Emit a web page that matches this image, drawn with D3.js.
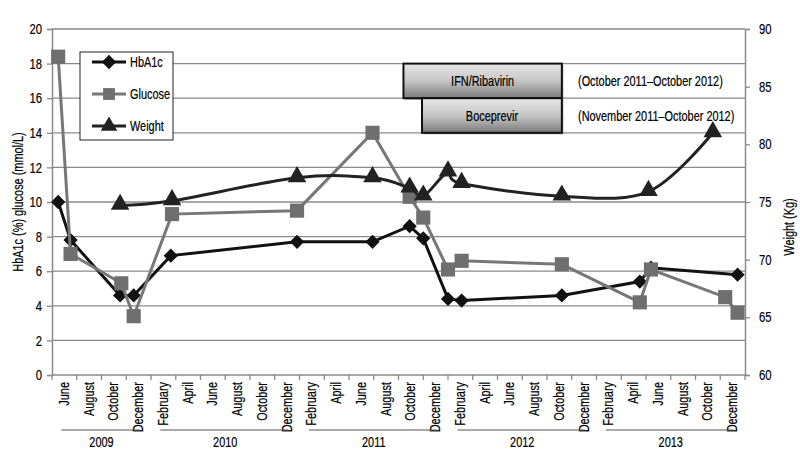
<!DOCTYPE html>
<html>
<head>
	<meta charset="utf-8">
	<title>HbA1c, glucose and weight</title>
	<script src="https://cdn.jsdelivr.net/npm/d3@7"></script>
	<style>
		body { margin: 0; background: #fff; }
		svg text { font-family: "Liberation Sans", Arial, sans-serif; fill: #000; stroke: #000; stroke-width: 0.2; }
	</style>
</head>
<body>
	<div id="chart"></div>
	<script type="text/javascript">
		// month positions: month number counted from Jan 2009 (June 2009 = 6)
		var monthLabels = ["June", "August", "October", "December",
			"February", "April", "June", "August", "October", "December",
			"February", "April", "June", "August", "October", "December",
			"February", "April", "June", "August", "October", "December",
			"February", "April", "June", "August", "October", "December"];
		var labelMonths = [6, 8, 10, 12, 14, 16, 18, 20, 22, 24, 26, 28, 30, 32, 34, 36,
			38, 40, 42, 44, 46, 48, 50, 52, 54, 56, 58, 60];
		var years = ["2009", "2010", "2011", "2012", "2013"];
		var yearFirstMonth = [6, 14, 26, 38, 50];
		var yearLastMonth = [12, 24, 36, 48, 60];

		var hba1cMonths = [5.5, 6.5, 10.5, 11.6, 14.6, 24.8, 30.9, 33.9, 35, 37, 38.1, 46.2, 52.5, 53.4, 60.4];
		var hba1cValues = [10.0, 7.8, 4.6, 4.6, 6.9, 7.7, 7.7, 8.6, 7.9, 4.4, 4.3, 4.6, 5.4, 6.2, 5.8];

		var glucoseMonths = [5.5, 6.5, 10.6, 11.6, 14.7, 24.8, 30.9, 33.9, 35, 37, 38.1, 46.2, 52.5, 53.4, 59.4, 60.4];
		var glucoseValues = [18.4, 7.0, 5.3, 3.4, 9.3, 9.5, 14.0, 10.3, 9.1, 6.1, 6.6, 6.4, 4.2, 6.1, 4.5, 3.6];

		var weightMonths = [10.5, 14.7, 24.8, 30.9, 33.9, 35, 37, 38.1, 46.2, 53.2, 58.4];
		var weightValues = [74.7, 75.1, 77.1, 77.1, 76.2, 75.5, 77.6, 76.6, 75.5, 75.9, 81.0];

		var treatments = ["IFN/Ribavirin", "Boceprevir"];
		var treatmentStart = [33.4, 34.9];
		var treatmentEnd = [46.2, 46.2];
		var treatmentNotes = ["(October 2011\u2013October 2012)", "(November 2011\u2013October 2012)"];

		var leftTicks = [0, 2, 4, 6, 8, 10, 12, 14, 16, 18, 20];
		var rightTicks = [60, 65, 70, 75, 80, 85, 90];

		var width = 800, height = 467;
		var plotLeft = 52, plotRight = 745, plotTop = 29, plotBottom = 375;
		var squeeze = 0.78; // narrow font look

		var svg = d3.select("#chart").append("svg")
			.attr("width", width)
			.attr("height", height);

		var x = d3.scaleLinear().domain([5, 61]).range([plotLeft, plotRight]);
		var y = d3.scaleLinear().domain([0, 20]).range([plotBottom, plotTop]);
		var y2 = d3.scaleLinear().domain([60, 90]).range([plotBottom, plotTop]);

		var grid = "#8a8a8a";

		// condensed text at a point, optionally rotated
		function label(parent, tx, ty, str, size, anchor, rot) {
			return parent.append("text")
				.attr("transform", "translate(" + tx + "," + ty + ")" + (rot ? " rotate(" + rot + ")" : "") + " scale(" + squeeze + ",1)")
				.attr("text-anchor", anchor || "start")
				.attr("font-size", size)
				.text(str);
		}

		// horizontal gridlines
		svg.append("g").selectAll("line")
			.data(leftTicks.slice(1))
			.enter().append("line")
				.attr("x1", plotLeft).attr("x2", plotRight)
				.attr("y1", function(d) { return y(d); })
				.attr("y2", function(d) { return y(d); })
				.attr("stroke", grid)
				.attr("stroke-width", 1.3);

		// left axis
		var yAxis = svg.append("g")
			.attr("transform", "translate(" + plotLeft + ",0)")
			.call(d3.axisLeft(y).tickValues(leftTicks).tickSize(5).tickPadding(5));
		yAxis.select(".domain").attr("stroke", grid).attr("stroke-width", 1.5);
		yAxis.selectAll(".tick line").attr("stroke", grid).attr("stroke-width", 1.3);
		yAxis.selectAll("text").attr("font-size", 14.5).attr("fill", "#000")
			.attr("font-family", null)
			.attr("x", -10 / squeeze)
			.attr("transform", "scale(" + squeeze + ",1)");

		// right axis
		var yAxis2 = svg.append("g")
			.attr("transform", "translate(" + plotRight + ",0)")
			.call(d3.axisRight(y2).tickValues(rightTicks).tickSize(5).tickPadding(9));
		yAxis2.select(".domain").attr("stroke", grid).attr("stroke-width", 1.5);
		yAxis2.selectAll(".tick line").attr("stroke", grid).attr("stroke-width", 1.3);
		yAxis2.selectAll("text").attr("font-size", 14.5).attr("fill", "#000")
			.attr("font-family", null)
			.attr("x", 14 / squeeze)
			.attr("transform", "scale(" + squeeze + ",1)");

		// x axis: ticks at slot boundaries, labels at slot centres
		var boundaries = d3.range(5, 62, 2);
		svg.append("line")
			.attr("x1", plotLeft).attr("x2", plotRight)
			.attr("y1", plotBottom).attr("y2", plotBottom)
			.attr("stroke", grid).attr("stroke-width", 1.5);
		svg.append("g").selectAll("line")
			.data(boundaries)
			.enter().append("line")
				.attr("x1", function(d) { return x(d); })
				.attr("x2", function(d) { return x(d); })
				.attr("y1", plotBottom).attr("y2", plotBottom + 5)
				.attr("stroke", grid).attr("stroke-width", 1.3);

		var monthG = svg.append("g");
		monthLabels.forEach(function(m, i) {
			label(monthG, x(labelMonths[i]) + 4.5, plotBottom + 7, m, 14, "end", -90);
		});

		// year groups
		var yearG = svg.append("g");
		years.forEach(function(yr, i) {
			yearG.append("line")
				.attr("x1", x(yearFirstMonth[i]) - 3)
				.attr("x2", x(yearLastMonth[i]) + 1)
				.attr("y1", 430).attr("y2", 430)
				.attr("stroke", "#555").attr("stroke-width", 1);
			label(yearG, (x(yearFirstMonth[i]) + x(yearLastMonth[i])) / 2, 447, yr, 14, "middle");
		});

		// axis titles
		label(svg, 23, (plotTop + plotBottom) / 2, "HbA1c (%) glucose (mmol/L)", 14, "middle", -90);
		label(svg, 794, (plotTop + plotBottom) / 2 + 25, "Weight (Kg)", 14, "middle", -90);

		// treatment boxes
		var defs = svg.append("defs");
		var grad = defs.append("linearGradient")
			.attr("id", "boxGrad")
			.attr("x1", 0).attr("x2", 0).attr("y1", 0).attr("y2", 1);
		grad.append("stop").attr("offset", "0%").attr("stop-color", "#e6e6e6");
		grad.append("stop").attr("offset", "50%").attr("stop-color", "#c6c6c6");
		grad.append("stop").attr("offset", "100%").attr("stop-color", "#7a7a7a");

		var boxTop = [18, 16], boxBottom = [16, 14];
		var boxG = svg.append("g");
		treatments.forEach(function(t, i) {
			var bx = x(treatmentStart[i]), bw = x(treatmentEnd[i]) - bx;
			var by = y(boxTop[i]), bh = y(boxBottom[i]) - by;
			// drop shadow
			boxG.append("rect")
				.attr("x", bx + 1.5).attr("y", by + 1.5)
				.attr("width", bw).attr("height", bh)
				.attr("fill", "#666").attr("opacity", 0.6);
			boxG.append("rect")
				.attr("x", bx).attr("y", by)
				.attr("width", bw).attr("height", bh)
				.attr("fill", "url(#boxGrad)")
				.attr("stroke", "#111")
				.attr("stroke-width", 2);
			var cy = y((boxTop[i] + boxBottom[i]) / 2) + 5;
			label(boxG, bx + bw / 2, cy, t, 14, "middle");
			label(boxG, 578, cy, treatmentNotes[i], 14, "start");
		});

		// series
		var hba1c = hba1cMonths.map(function(m, i) { return [m, hba1cValues[i]]; });
		var glucose = glucoseMonths.map(function(m, i) { return [m, glucoseValues[i]]; });
		var weight = weightMonths.map(function(m, i) { return [m, weightValues[i]]; });

		var lineL = d3.line()
			.x(function(d) { return x(d[0]); })
			.y(function(d) { return y(d[1]); });
		var lineW = d3.line()
			.x(function(d) { return x(d[0]); })
			.y(function(d) { return y2(d[1]); })
			.curve(d3.curveCardinal.tension(0));

		var diamond = d3.symbol().type(d3.symbolDiamond2).size(130);
		var square = d3.symbol().type(d3.symbolSquare).size(200);
		var triangle = d3.symbol().type(d3.symbolTriangle).size(150);

		svg.append("path").datum(hba1c)
			.attr("d", lineL)
			.attr("fill", "none").attr("stroke", "#111").attr("stroke-width", 3);
		svg.append("g").selectAll("path")
			.data(hba1c)
			.enter().append("path")
				.attr("d", diamond)
				.attr("transform", function(d) { return "translate(" + x(d[0]) + "," + y(d[1]) + ")"; })
				.attr("fill", "#111");

		svg.append("path").datum(glucose)
			.attr("d", lineL)
			.attr("fill", "none").attr("stroke", "#777").attr("stroke-width", 3);
		svg.append("g").selectAll("path")
			.data(glucose)
			.enter().append("path")
				.attr("d", square)
				.attr("transform", function(d) { return "translate(" + x(d[0]) + "," + y(d[1]) + ")"; })
				.attr("fill", "#6f6f6f");

		svg.append("path").datum(weight)
			.attr("d", lineW)
			.attr("fill", "none").attr("stroke", "#222").attr("stroke-width", 3);
		svg.append("g").selectAll("path")
			.data(weight)
			.enter().append("path")
				.attr("d", triangle)
				.attr("transform", function(d) { return "translate(" + x(d[0]) + "," + (y2(d[1]) - 1) + ")"; })
				.attr("fill", "#222");

		// legend
		var legend = svg.append("g");
		legend.append("rect")
			.attr("x", 80).attr("y", 52)
			.attr("width", 93).attr("height", 88)
			.attr("fill", "#fff").attr("stroke", "#222").attr("stroke-width", 1);
		var legendNames = ["HbA1c", "Glucose", "Weight"];
		var legendColors = ["#111", "#777", "#222"];
		var legendSymbols = [diamond, square.size(140), triangle.size(120)];
		legendNames.forEach(function(n, i) {
			var ly = 62 + i * 32;
			legend.append("line")
				.attr("x1", 92).attr("x2", 126)
				.attr("y1", ly).attr("y2", ly)
				.attr("stroke", legendColors[i])
				.attr("stroke-width", 3);
			legend.append("path")
				.attr("d", legendSymbols[i]())
				.attr("transform", "translate(109," + ly + ")")
				.attr("fill", i == 1 ? "#6f6f6f" : legendColors[i]);
			label(legend, 130, ly + 5, n, 14, "start");
		});
	</script>
</body>
</html>
